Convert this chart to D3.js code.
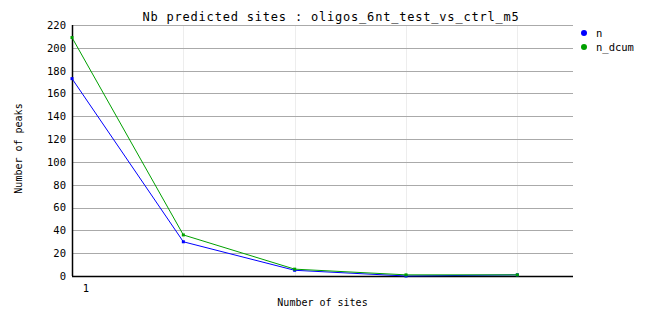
<!DOCTYPE html>
<html>
<head>
<meta charset="utf-8">
<script src="https://cdn.jsdelivr.net/npm/d3@7"></script>
<style>
  body { margin: 0; background: #fff; }
  text { font-family: "DejaVu Sans Mono", monospace; fill: #000; }
</style>
</head>
<body>
<div id="app"></div>
<script>
const width = 662;
const height = 328;

// data
const sites = [1, 2, 3, 4, 5];
const n = [173, 30, 5, 0, 1];
const nDcum = [209, 36, 6, 1, 1];
const yTicks = [0, 20, 40, 60, 80, 100, 120, 140, 160, 180, 200, 220];
const xTickLabels = ["1"];

const margin = { top: 25, right: 89, bottom: 52, left: 72 };
const plotW = width - margin.left - margin.right;
const plotH = height - margin.top - margin.bottom;

document.getElementById("app").innerHTML = `
  <svg width="${width}" height="${height}"></svg>
`;
const svg = d3.select("svg");

const x = d3.scaleLinear().domain([1, 5.5]).range([0, plotW]);
const y = d3.scaleLinear().domain([0, 220]).range([plotH, 0]);

const g = svg.append("g").attr("transform", `translate(${margin.left},${margin.top})`);

// vertical light grid
g.append("g")
  .selectAll("line")
  .data(sites.slice(1))
  .enter()
  .append("line")
  .attr("x1", d => Math.round(x(d)) + 0.5)
  .attr("x2", d => Math.round(x(d)) + 0.5)
  .attr("y1", 0)
  .attr("y2", plotH)
  .attr("stroke", "#ededed")
  .attr("shape-rendering", "crispEdges");

// horizontal grid
g.append("g")
  .selectAll("line")
  .data(yTicks.slice(1))
  .enter()
  .append("line")
  .attr("x1", 0)
  .attr("x2", plotW)
  .attr("y1", d => Math.round(y(d)) + 0.5)
  .attr("y2", d => Math.round(y(d)) + 0.5)
  .attr("stroke", "#aaaaaa")
  .attr("shape-rendering", "crispEdges");

// axes
const yAxis = d3.axisLeft(y).tickValues(yTicks).tickSize(0).tickPadding(6);
g.append("g")
  .call(yAxis)
  .call(s => s.select(".domain").attr("stroke", "#000").attr("stroke-width", 1.5).attr("d", `M0.5,${plotH}V0`))
  .call(s => s.selectAll("text").style("font-size", "10.5px"));

g.append("line")
  .attr("x1", 0)
  .attr("x2", plotW)
  .attr("y1", plotH + 0.5)
  .attr("y2", plotH + 0.5)
  .attr("stroke", "#000")
  .attr("stroke-width", 1.5);

g.append("g")
  .selectAll("text")
  .data(xTickLabels)
  .enter()
  .append("text")
  .attr("x", d => x(+d) + 14)
  .attr("y", plotH + 16)
  .attr("text-anchor", "middle")
  .style("font-size", "10.5px")
  .text(d => d);

// series
const series = [
  { name: "n", values: n, color: "#0000ff" },
  { name: "n_dcum", values: nDcum, color: "#00a000" }
];

const line = d3.line()
  .x((d, i) => x(sites[i]))
  .y(d => y(d));

series.forEach(s => {
  g.append("path")
    .datum(s.values)
    .attr("fill", "none")
    .attr("stroke", s.color)
    .attr("stroke-width", 1)
    .attr("d", line);

  g.append("g")
    .selectAll("rect")
    .data(s.values)
    .enter()
    .append("rect")
    .attr("x", (d, i) => x(sites[i]) - 1.5)
    .attr("y", d => y(d) - 1.5)
    .attr("width", 3)
    .attr("height", 3)
    .attr("fill", s.color);
});

// title and axis labels
svg.append("text")
  .attr("x", 331)
  .attr("y", 21)
  .attr("text-anchor", "middle")
  .style("font-size", "12px")
  .style("letter-spacing", "0.8px")
  .text("Nb predicted sites : oligos_6nt_test_vs_ctrl_m5");

svg.append("text")
  .attr("x", margin.left + plotW / 2)
  .attr("y", 306)
  .attr("text-anchor", "middle")
  .style("font-size", "10px")
  .text("Number of sites");

svg.append("text")
  .attr("transform", `translate(22,${margin.top + plotH / 2 - 2}) rotate(-90)`)
  .attr("text-anchor", "middle")
  .style("font-size", "10px")
  .text("Number of peaks");

// legend
const legend = svg.append("g")
  .selectAll("g")
  .data(series)
  .enter()
  .append("g")
  .attr("transform", (d, i) => `translate(584,${33 + i * 14})`);

legend.append("circle")
  .attr("r", 3)
  .attr("fill", d => d.color);

legend.append("text")
  .attr("x", 12)
  .attr("y", 4)
  .style("font-size", "10.5px")
  .text(d => d.name);
</script>
</body>
</html>
